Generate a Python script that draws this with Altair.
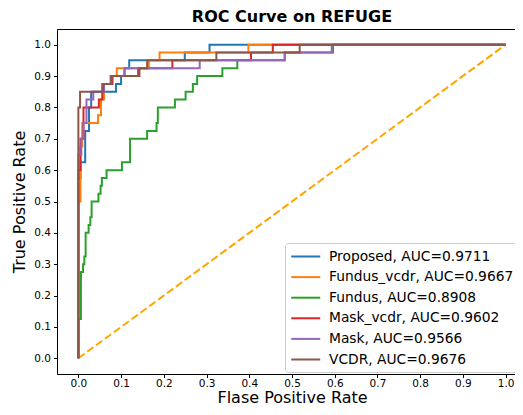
import altair as alt
import pandas as pd

labels = ["Proposed, AUC=0.9711", "Fundus_vcdr, AUC=0.9667", "Fundus, AUC=0.8908",
          "Mask_vcdr, AUC=0.9602", "Mask, AUC=0.9566", "VCDR, AUC=0.9676"]
colors = ["#1f77b4", "#ff7f0e", "#2ca02c", "#d62728", "#9467bd", "#8c564b"]

proposed_fpr = [0.0, 0.0, 0.005, 0.005, 0.016, 0.016, 0.025, 0.025, 0.030, 0.030, 0.088, 0.088,
                0.100, 0.100, 0.108, 0.108, 0.119, 0.119, 0.249, 0.249, 0.307, 0.307, 1.0]
proposed_tpr = [0.0, 0.575, 0.575, 0.625, 0.625, 0.725, 0.725, 0.8, 0.8, 0.85, 0.85, 0.875,
                0.875, 0.9, 0.9, 0.925, 0.925, 0.95, 0.95, 0.975, 0.975, 1.0, 1.0]

fundus_vcdr_fpr = [0.0, 0.0, 0.005, 0.005, 0.009, 0.009, 0.046, 0.046, 0.053, 0.053, 0.060, 0.060,
                   0.075, 0.075, 0.090, 0.090, 0.165, 0.165, 0.190, 0.190, 0.398, 0.398, 1.0]
fundus_vcdr_tpr = [0.0, 0.5, 0.5, 0.675, 0.675, 0.75, 0.75, 0.775, 0.775, 0.825, 0.825, 0.875,
                   0.875, 0.9, 0.9, 0.925, 0.925, 0.95, 0.95, 0.975, 0.975, 1.0, 1.0]

fundus_fpr = [0.0, 0.0, 0.006, 0.006, 0.011, 0.011, 0.014, 0.014, 0.017, 0.017, 0.024, 0.024,
              0.028, 0.028, 0.031, 0.031, 0.047, 0.047, 0.052, 0.052, 0.055, 0.055, 0.066, 0.066,
              0.102, 0.102, 0.121, 0.121, 0.161, 0.161, 0.183, 0.183, 0.186, 0.186, 0.226, 0.226,
              0.251, 0.251, 0.268, 0.268, 0.278, 0.278, 0.337, 0.337, 0.372, 0.372, 0.483, 0.483,
              0.596, 0.596, 1.0]
fundus_tpr = [0.0, 0.125, 0.125, 0.275, 0.275, 0.3, 0.3, 0.325, 0.325, 0.4, 0.4, 0.425, 0.425,
              0.45, 0.45, 0.5, 0.5, 0.525, 0.525, 0.55, 0.55, 0.575, 0.575, 0.6, 0.6, 0.625, 0.625,
              0.7, 0.7, 0.725, 0.725, 0.75, 0.75, 0.8, 0.8, 0.825, 0.825, 0.85, 0.85, 0.875, 0.875,
              0.9, 0.9, 0.925, 0.925, 0.95, 0.95, 0.975, 0.975, 1.0, 1.0]

mask_vcdr_fpr = [0.0, 0.0, 0.005, 0.005, 0.012, 0.012, 0.048, 0.048, 0.056, 0.056, 0.080, 0.080,
                 0.140, 0.140, 0.220, 0.220, 0.404, 0.404, 0.455, 0.455, 1.0]
mask_vcdr_tpr = [0.0, 0.6, 0.6, 0.7, 0.7, 0.8, 0.8, 0.825, 0.825, 0.875, 0.875, 0.9, 0.9,
                 0.925, 0.925, 0.95, 0.95, 0.975, 0.975, 1.0, 1.0]

mask_fpr = [0.0, 0.0, 0.007, 0.007, 0.012, 0.012, 0.019, 0.019, 0.035, 0.035, 0.060, 0.060,
            0.077, 0.077, 0.108, 0.108, 0.284, 0.284, 0.483, 0.483, 0.593, 0.593, 1.0]
mask_tpr = [0.0, 0.65, 0.65, 0.7, 0.7, 0.75, 0.75, 0.825, 0.825, 0.85, 0.85, 0.875, 0.875,
            0.9, 0.9, 0.925, 0.925, 0.95, 0.95, 0.975, 0.975, 1.0, 1.0]

vcdr_fpr = [0.0, 0.0, 0.004, 0.004, 0.058, 0.058, 0.077, 0.077, 0.143, 0.143, 0.161, 0.161,
            0.323, 0.323, 0.518, 0.518, 1.0]
vcdr_tpr = [0.0, 0.8, 0.8, 0.85, 0.85, 0.875, 0.875, 0.9, 0.9, 0.925, 0.925, 0.95, 0.95,
            0.975, 0.975, 1.0, 1.0]

diag_x = [0.0, 1.0]
diag_y = [0.0, 1.0]

ticks = [0.0, 0.1, 0.2, 0.3, 0.4, 0.5, 0.6, 0.7, 0.8, 0.9, 1.0]

fprs = [proposed_fpr, fundus_vcdr_fpr, fundus_fpr, mask_vcdr_fpr, mask_fpr, vcdr_fpr]
tprs = [proposed_tpr, fundus_vcdr_tpr, fundus_tpr, mask_vcdr_tpr, mask_tpr, vcdr_tpr]

rows = []
for name, fx, ty in zip(labels, fprs, tprs):
    for i, (a, b) in enumerate(zip(fx, ty)):
        rows.append({"model": name, "fpr": a, "tpr": b, "step": i})
df = pd.DataFrame(rows)
diag = pd.DataFrame({"fpr": diag_x, "tpr": diag_y})

FONT = "DejaVu Sans"
W = 458
H = 345
XR = 470
xscale = alt.Scale(domain=[-0.05, 1.05], range=[0, XR], nice=False, zero=False)
yscale = alt.Scale(domain=[-0.05, 1.05], nice=False, zero=False)

axis_common = dict(grid=False, domain=True, domainColor="#000000", domainWidth=1,
                   tickColor="#000000", tickSize=3.5, tickWidth=1,
                   labelColor="#000000", labelFontSize=10.5, labelFont=FONT,
                   titleColor="#000000", titleFontSize=16, titleFont=FONT,
                   titleFontWeight="normal", values=ticks, format=".1f")

xaxis = alt.Axis(title="Flase Positive Rate", labelPadding=1, titlePadding=0,
                 titleX=XR / 2, titleAnchor="middle", titleAlign="center", **axis_common)
yaxis = alt.Axis(title="True Positive Rate", labelPadding=3, titlePadding=6, **axis_common)
top_axis = alt.Axis(orient="top", labels=False, ticks=False, title=None, grid=False,
                    domain=True, domainColor="#000000", domainWidth=1)

color = alt.Color(
    "model:N",
    scale=alt.Scale(domain=labels, range=colors),
    legend=alt.Legend(
        title=None, orient="none", legendX=228, legendY=214,
        symbolType="M-1,0H3", symbolSize=210, symbolStrokeWidth=2,
        labelFontSize=13.8, labelFont=FONT, labelColor="#000000", labelOffset=22,
        padding=5, rowPadding=4.6, fillColor="#ffffff", strokeColor="#cccccc",
        cornerRadius=3, labelLimit=400,
    ),
)

diag_layer = alt.Chart(diag).mark_line(
    color="#FFA500", strokeWidth=2, strokeDash=[7.7, 3.3]
).encode(
    x=alt.X("fpr:Q", scale=xscale, axis=top_axis),
    y=alt.Y("tpr:Q", scale=yscale, axis=yaxis),
)

model_layers = []
for name in labels:
    model_layers.append(
        alt.Chart(df).transform_filter(alt.datum.model == name).mark_line(strokeWidth=2).encode(
            x=alt.X("fpr:Q", scale=xscale, axis=xaxis),
            y=alt.Y("tpr:Q", scale=yscale, axis=yaxis),
            color=color,
            order=alt.Order("step:Q"),
        )
    )
models = alt.layer(*model_layers)

chart = alt.layer(diag_layer, models).resolve_axis(x="independent").properties(
    width=W, height=H,
    autosize=alt.AutoSizeParams(type="none"),
    padding={"left": 49, "top": 21, "right": 0, "bottom": 33},
    title=alt.Title("ROC Curve on REFUGE", fontSize=16, fontWeight="bold", font=FONT,
                    color="#000000", anchor="middle", offset=4, dx=(XR - W) / 2),
).configure_view(stroke=None).configure(background="#ffffff")

chart.save("out.html", embed_options={"renderer": "svg", "actions": False})
